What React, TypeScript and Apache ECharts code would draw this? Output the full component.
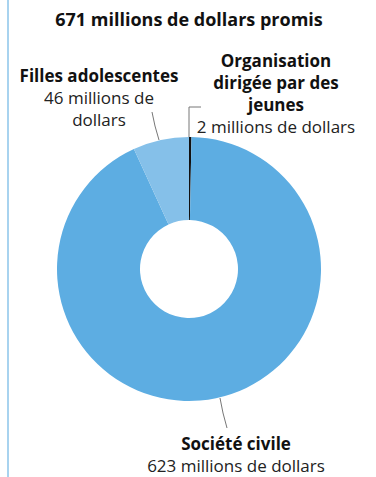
import React, { useEffect, useRef } from "react";
import * as echarts from "echarts";

const titleText = "671 millions de dollars promis";
const categories = ["Organisation\ndirigée par des\njeunes", "Société civile", "Filles adolescentes"];
const values = [2, 623, 46];
const valueLabels = ["2 millions de dollars", "623 millions de dollars", "46 millions de\ndollars"];
const colors = ["#111111", "#5DADE2", "#85C0E9"];

const FONT = "'Open Sans', 'Noto Sans', sans-serif";

export default function App() {
  const ref = useRef<HTMLDivElement>(null);
  useEffect(() => {
    if (!ref.current) return;
    const chart = echarts.init(ref.current, undefined, { renderer: "svg" });
    const labelPos = [
      { x: 276, y: 49, line: [[189, 137], [189, 107], [201, 107]] },
      { x: 236, y: 432, line: [[220, 398], [223, 413], [227, 428]] },
      { x: 99, y: 64, line: [[159, 140], [155, 126], [152, 112]] },
    ];
    const fmt = (i: number) => {
      const b = categories[i].split("\n").map((s) => `{b|${s}}`).join("\n");
      const v = valueLabels[i].split("\n").map((s) => `{v|${s}}`).join("\n");
      return b + "\n" + v;
    };
    chart.setOption({
      animation: false,
      graphic: [
        {
          type: "line",
          shape: { x1: 8, y1: 0, x2: 8, y2: 477 },
          style: { stroke: "#A8D3EF", lineWidth: 2 },
        },
        {
          type: "text",
          x: 189,
          y: 19,
          style: {
            text: titleText,
            fontFamily: FONT,
            fontSize: 18,
            fontWeight: "bold",
            fill: "#111",
            textAlign: "center",
            textVerticalAlign: "middle",
          },
        },
      ],
      series: [
        {
          type: "pie",
          center: [189, 269],
          radius: [49, 132],
          startAngle: 90,
          clockwise: true,
          avoidLabelOverlap: false,
          data: values.map((v, i) => ({
            value: v,
            name: categories[i],
            itemStyle: { color: colors[i] },
          })),
          itemStyle: { borderWidth: 0 },
          label: {
            show: true,
            position: "outside",
            formatter: (p: any) => fmt(p.dataIndex),
            rich: {
              b: { fontFamily: FONT, fontSize: 17, fontWeight: "bold", color: "#111", lineHeight: 22, align: "center" },
              v: { fontFamily: FONT, fontSize: 17, color: "#222", lineHeight: 22, align: "center" },
            },
          },
          labelLine: { show: true, lineStyle: { color: "#777", width: 1 } },
          labelLayout: (params: any) => {
            const p = labelPos[params.dataIndex];
            return {
              x: p.x,
              y: p.y,
              align: "center",
              verticalAlign: "top",
              labelLinePoints: p.line,
            };
          },
          emphasis: { disabled: true },
        },
      ],
    });
    return () => chart.dispose();
  }, []);
  return (
    <div
      ref={ref}
      style={{ position: "fixed", left: 0, top: 0, width: 376, height: 477, background: "#fff" }}
    />
  );
}
